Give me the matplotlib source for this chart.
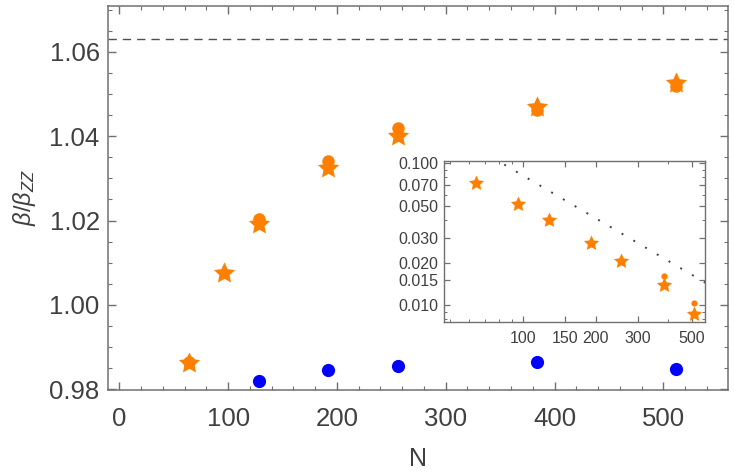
import matplotlib
matplotlib.use('Agg')
import numpy as np
import matplotlib.pyplot as plt
from matplotlib.path import Path
from matplotlib.ticker import MultipleLocator, FixedLocator, FixedFormatter, NullFormatter

plt.rcParams['font.family'] = ['Liberation Sans', 'DejaVu Sans']
plt.rcParams['mathtext.fontset'] = 'custom'
plt.rcParams['mathtext.rm'] = 'Liberation Sans'
plt.rcParams['mathtext.it'] = 'Liberation Sans:italic'

# ---- data (main panel) ----
N_star = [64, 96, 128, 192, 256, 384, 512]
beta_star = [0.9862, 1.0075, 1.0192, 1.0325, 1.0401, 1.0470, 1.0527]
N_circ = [64, 128, 192, 256, 384, 512]
beta_circ = [0.9864, 1.0204, 1.0342, 1.0419, 1.0462, 1.0519]
N_blue = [128, 192, 256, 384, 512]
beta_blue = [0.9820, 0.9845, 0.9855, 0.9864, 0.9847]
beta_limit = 1.063

# ---- data (inset) ----
inset_N = [64, 96, 128, 192, 256, 384, 512]
inset_star = [0.0723, 0.0514, 0.0399, 0.0276, 0.0206, 0.0139, 0.00869]
inset_circ_N = [384, 512]
inset_circ = [0.0162, 0.0104]
guide_N = [60, 570]
guide_y = [0.137, 0.0144]

x_ticks = [0, 100, 200, 300, 400, 500]
y_ticks = [0.98, 1.00, 1.02, 1.04, 1.06]
y_ticklabels = ['0.98', '1.00', '1.02', '1.04', '1.06']
inset_xticks = [100, 150, 200, 300, 500]
inset_xticklabels = ['100', '150', '200', '300', '500']
inset_yticks = [0.010, 0.015, 0.020, 0.030, 0.050, 0.070, 0.100]
inset_yticklabels = ['0.010', '0.015', '0.020', '0.030', '0.050', '0.070', '0.100']

ORANGE = '#FF8000'
BLUE = '#0000FF'
TXT = '#404040'
SPINE = '#707070'

# fatter five-pointed star marker (Mathematica-like)
_ang = np.pi / 2 + np.arange(10) * np.pi / 5
_rad = np.where(np.arange(10) % 2 == 0, 1.0, 0.48)
_verts = np.column_stack([_rad * np.cos(_ang), _rad * np.sin(_ang)])
_verts = np.vstack([_verts, _verts[:1]])
STAR = Path(_verts, closed=True)

fig = plt.figure(figsize=(7.34, 4.74), dpi=100)
ax = fig.add_axes([108/734, 1-390/474, (728-108)/734, (390-6)/474])

ax.axhline(beta_limit, color='#505050', lw=1.0, dashes=(6, 4.3), zorder=1)
ax.plot(N_blue, beta_blue, 'o', color=BLUE, ms=9.5, mec='none', zorder=3)
ax.plot(N_circ, beta_circ, 'o', color=ORANGE, ms=9, mec='none', zorder=3)
ax.plot(N_star, beta_star, marker=STAR, ls='none', color=ORANGE, ms=16, mec='none', zorder=4)

ax.set_xlim(-10.5, 559.5)
ax.set_ylim(0.9798, 1.0709)
ax.xaxis.set_major_locator(FixedLocator(x_ticks))
ax.xaxis.set_minor_locator(MultipleLocator(20))
ax.yaxis.set_major_locator(FixedLocator(y_ticks))
ax.yaxis.set_major_formatter(FixedFormatter(y_ticklabels))
ax.yaxis.set_minor_locator(MultipleLocator(0.005))
ax.tick_params(which='both', direction='in', top=True, right=True, color=SPINE,
               labelcolor=TXT, labelsize=18.5)
ax.tick_params(which='major', length=5.5, width=1.0)
ax.tick_params(which='minor', length=3, width=0.8)
ax.tick_params(axis='x', pad=12)
ax.tick_params(axis='y', pad=6)
for s in ax.spines.values():
    s.set_color(SPINE)
    s.set_linewidth(1.1)
ax.set_xlabel('N', fontsize=18, color=TXT, labelpad=12)
ax.set_ylabel(r'$\beta/\beta_{ZZ}$', fontsize=17, color=TXT, labelpad=8)

# ---- inset ----
ins = fig.add_axes([444.3/734, 1-322.3/474, (705-444.3)/734, (322.3-161)/474])
ins.set_xscale('log')
ins.set_yscale('log')
ins.plot(guide_N, guide_y, color='#404040', lw=1.4, dashes=(1.0, 6.0), zorder=1)
ins.plot(inset_circ_N, inset_circ, 'o', color=ORANGE, ms=4.5, mec='none', zorder=3)
ins.plot(inset_N, inset_star, marker=STAR, ls='none', color=ORANGE, ms=11.5, mec='none', zorder=4)
ins.set_xlim(47.4, 567)
ins.set_ylim(0.00759, 0.1038)
ins.xaxis.set_major_locator(FixedLocator(inset_xticks))
ins.xaxis.set_major_formatter(FixedFormatter(inset_xticklabels))
ins.xaxis.set_minor_locator(FixedLocator([50, 60, 70, 80, 90, 400]))
ins.xaxis.set_minor_formatter(NullFormatter())
ins.yaxis.set_major_locator(FixedLocator(inset_yticks))
ins.yaxis.set_major_formatter(FixedFormatter(inset_yticklabels))
ins.yaxis.set_minor_locator(FixedLocator([0.008, 0.009, 0.04, 0.06, 0.08, 0.09]))
ins.yaxis.set_minor_formatter(NullFormatter())
ins.tick_params(which='both', direction='in', top=True, right=True, color=SPINE,
                labelcolor=TXT, labelsize=11.5)
ins.tick_params(which='major', length=4, width=0.9)
ins.tick_params(which='minor', length=2.2, width=0.7)
ins.tick_params(axis='x', pad=6)
ins.tick_params(axis='y', pad=4)
for s in ins.spines.values():
    s.set_color(SPINE)
    s.set_linewidth(1.0)

fig.savefig('out.png', dpi=100)
